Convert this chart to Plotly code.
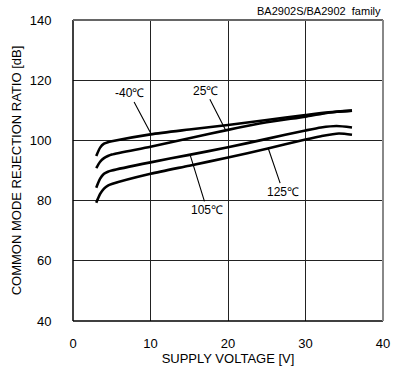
import numpy as np
import plotly.graph_objects as go

# Supply voltage [V] and CMRR [dB] for each ambient temperature
v_m40 = [3, 3.5, 4, 4.5, 5, 10, 15, 20, 25, 30, 33, 36]
cmrr_m40 = [94.8, 97.6, 98.9, 99.4, 99.7, 102.0, 103.6, 105.1, 106.8, 108.4, 109.3, 109.9]

v_25 = [3, 3.5, 4, 4.5, 5, 10, 15, 20, 25, 30, 32, 34, 36]
cmrr_25 = [90.8, 92.9, 94.1, 94.8, 95.3, 97.9, 100.7, 103.5, 106.0, 107.9, 108.8, 109.5, 109.9]

v_105 = [3, 3.5, 4, 4.5, 5, 10, 15, 20, 25, 30, 32, 34, 36]
cmrr_105 = [84.3, 87.3, 88.9, 89.6, 90.0, 92.7, 95.2, 97.7, 100.5, 103.3, 104.3, 104.8, 104.3]

v_125 = [3, 3.5, 4, 4.5, 5, 10, 15, 20, 25, 30, 32, 34.3, 36]
cmrr_125 = [79.3, 82.2, 84.0, 85.0, 85.5, 88.9, 91.6, 94.3, 97.2, 100.3, 101.4, 102.3, 101.9]

curve_names = ["-40℃", "25℃", "105℃", "125℃"]
x_ticks = [0, 10, 20, 30, 40]
y_ticks = [40, 60, 80, 100, 120, 140]

curves = [(v_m40, cmrr_m40), (v_25, cmrr_25), (v_105, cmrr_105), (v_125, cmrr_125)]

# label text position (V, dB) and voltage where the leader touches its curve
label_pos = [(7.3, 115.6), (17.1, 116.5), (17.3, 76.9), (27.1, 83.0)]
touch_v = [10.1, 19.7, 15.1, 25.2]

FONT = "Liberation Sans, Arial, sans-serif"

fig = go.Figure()
for name, (vx, vy) in zip(curve_names, curves):
    fig.add_trace(go.Scatter(
        x=vx, y=vy, mode="lines", name=name,
        line=dict(color="black", width=2.6, shape="spline", smoothing=0.7),
        showlegend=False, hoverinfo="skip",
    ))

annotations = []
for name, (vx, vy), (lx, ly), tv in zip(curve_names, curves, label_pos, touch_v):
    annotations.append(dict(
        x=tv, y=float(np.interp(tv, vx, vy)), xref="x", yref="y",
        ax=lx, ay=ly, axref="x", ayref="y",
        text=name, showarrow=True, arrowhead=0, arrowwidth=1.1,
        arrowcolor="black", standoff=0,
        font=dict(family=FONT, size=12, color="black"),
    ))

annotations.append(dict(
    x=1.0, y=1.0, xref="paper", yref="paper", xanchor="right", yanchor="bottom",
    yshift=1, text="BA2902S/BA2902\u00a0 family", showarrow=False,
    font=dict(family=FONT, size=11, color="black"),
))

# plot frame: dark left/bottom, grey top/right
shapes = [
    dict(type="line", xref="paper", yref="paper", x0=0, x1=0, y0=0, y1=1,
         line=dict(color="black", width=1.5)),
    dict(type="line", xref="paper", yref="paper", x0=0, x1=1, y0=0, y1=0,
         line=dict(color="black", width=1.5)),
    dict(type="line", xref="paper", yref="paper", x0=0, x1=1, y0=1, y1=1,
         line=dict(color="#666666", width=2)),
    dict(type="line", xref="paper", yref="paper", x0=1, x1=1, y0=0, y1=1,
         line=dict(color="#888888", width=2)),
]

fig.update_layout(
    width=394, height=376, autosize=False,
    margin=dict(l=73, r=11, t=20, b=55, pad=0),
    paper_bgcolor="white", plot_bgcolor="white",
    font=dict(family=FONT, size=13, color="black"),
    annotations=annotations, shapes=shapes,
    xaxis=dict(
        range=[0, 40], tickvals=x_ticks, ticktext=[str(t) for t in x_ticks],
        showgrid=True, gridcolor="#222222", gridwidth=1,
        zeroline=False, showline=False, automargin=False,
        ticks="outside", ticklen=10, tickcolor="rgba(0,0,0,0)",
        tickfont=dict(family=FONT, size=13),
        title=dict(text="SUPPLY VOLTAGE [V]", standoff=4,
                   font=dict(family=FONT, size=13)),
    ),
    yaxis=dict(
        range=[40, 140], tickvals=y_ticks, ticktext=[str(t) for t in y_ticks],
        showgrid=True, gridcolor="#222222", gridwidth=1,
        zeroline=False, showline=False, automargin=False,
        ticks="outside", ticklen=18, tickcolor="rgba(0,0,0,0)",
        tickfont=dict(family=FONT, size=13),
        title=dict(text="COMMON MODE REJECTION RATIO [dB]", standoff=5,
                   font=dict(family=FONT, size=13)),
    ),
)

fig.write_html("out.html")
